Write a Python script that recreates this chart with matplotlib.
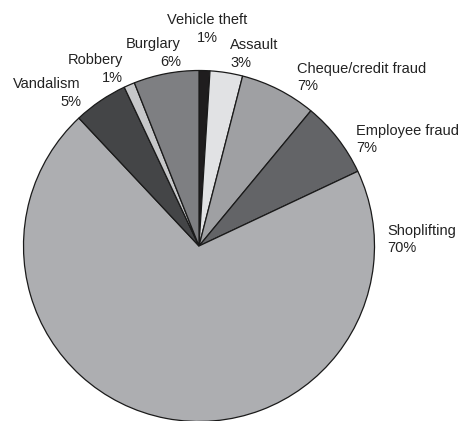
import matplotlib as mpl
mpl.use('Agg')
import matplotlib.pyplot as plt

# crime categories, clockwise from 12 o'clock
labels = ['Vehicle theft', 'Assault', 'Cheque/credit fraud', 'Employee fraud',
          'Shoplifting', 'Vandalism', 'Robbery', 'Burglary']
shares = [1, 3, 7, 7, 70, 5, 1, 6]
colours = ['#1f1d1e', '#e1e2e4', '#9fa0a3', '#636467',
           '#adaeb1', '#444547', '#c6c7c9', '#7e7f82']

# label anchors in pixels (x, baseline of the percent line from top), alignment
label_pos = [(207, 41.5, 'center'), (230, 67, 'left'), (297, 90.5, 'left'),
             (356, 152.5, 'left'), (387, 252.5, 'left'), (81, 105.5, 'right'),
             (123, 82, 'right'), (181, 65.5, 'right')]

W, H = 459, 421
fig = plt.figure(figsize=(W / 100, H / 100), dpi=100)
ax = fig.add_axes([0, 0, 1, 1])

ax.pie(shares, colors=colours, startangle=90, counterclock=False,
       center=(199, H - 246), radius=175.5,
       wedgeprops=dict(edgecolor='#1a1a1a', linewidth=0.9))

for name, val, (x, y, ha) in zip(labels, shares, label_pos):
    ax.text(x, H - y, '%s\n%d%%' % (name, val), ha=ha, va='baseline',
            multialignment=ha, fontsize=10.5, family='Liberation Sans',
            color='#222222', linespacing=1.32)

ax.set_xlim(0, W)
ax.set_ylim(0, H)
ax.set_aspect('equal')
ax.axis('off')

fig.savefig('out.png', dpi=100)
